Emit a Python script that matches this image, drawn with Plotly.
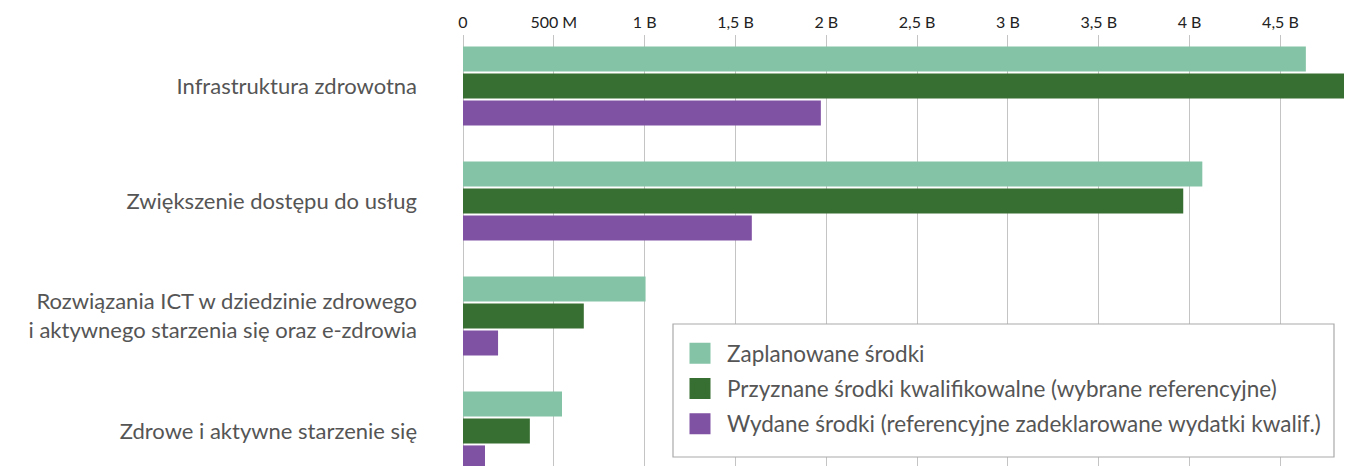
import plotly.graph_objects as go

categories = [
    "Infrastruktura zdrowotna",
    "Zwiększenie dostępu do usług",
    "Rozwiązania ICT w dziedzinie zdrowego<br>i aktywnego starzenia się oraz e-zdrowia",
    "Zdrowe i aktywne starzenie się",
]
series_names = [
    "Zaplanowane środki",
    "Przyznane środki kwalifikowalne (wybrane referencyjne)",
    "Wydane środki (referencyjne zadeklarowane wydatki kwalif.)",
]
planned = [4.64e9, 4.07e9, 1.005e9, 0.545e9]
granted = [4.85e9, 3.965e9, 0.665e9, 0.368e9]
spent = [1.97e9, 1.59e9, 0.193e9, 0.121e9]
colors = ["#84C3A5", "#376E31", "#8052A3"]
tick_vals = [0, 0.5e9, 1e9, 1.5e9, 2e9, 2.5e9, 3e9, 3.5e9, 4e9, 4.5e9]
tick_text = ["0", "500 M", "1 B", "1,5 B", "2 B", "2,5 B", "3 B", "3,5 B", "4 B", "4,5 B"]

FONT = "Lato"

fig = go.Figure()
for i, (name, vals, col) in enumerate(zip(series_names, [planned, granted, spent], colors)):
    fig.add_trace(go.Bar(
        y=categories, x=vals, name=name, orientation="h",
        marker=dict(color=col, line=dict(width=0)),
        legendgroup=f"g{i}", showlegend=False,
        hoverinfo="x+name",
    ))
# legend entries (larger square swatches, same groups as the bars)
for i, (name, col) in enumerate(zip(series_names, colors)):
    fig.add_trace(go.Scatter(
        x=[None], y=[None], name=name, mode="markers",
        marker=dict(symbol="square", size=16, color=col,
                    line=dict(color=col, width=5)),
        legendgroup=f"g{i}", showlegend=True, hoverinfo="skip",
    ))

# legend frame, in plot-area fractions
W, H = 881.0, 431.0
fig.add_shape(
    type="rect", xref="paper", yref="paper", layer="above",
    x0=(673 - 463) / W, x1=(1334 - 463) / W,
    y0=(466 - 457) / H, y1=(466 - 324) / H,
    line=dict(color="#aaaaaa", width=1.2), fillcolor="white",
)

fig.update_layout(
    width=1349, height=458,
    margin=dict(l=455, r=13, t=27, b=0),
    paper_bgcolor="white", plot_bgcolor="white",
    barmode="group", bargap=0.296, bargroupgap=0.074,
    font=dict(family=FONT, color="#555555"),
    showlegend=True,
    legend=dict(
        x=(673 - 463) / W, y=(466 - 332) / H, xanchor="left", yanchor="top",
        borderwidth=0, bgcolor="rgba(0,0,0,0)",
        font=dict(size=22.5, color="#555555", family=FONT),
        traceorder="grouped", tracegroupgap=3, itemwidth=44,
    ),
    xaxis=dict(
        side="top", range=[0, 4.85e9],
        tickvals=tick_vals, ticktext=tick_text,
        tickfont=dict(size=16, color="#222222", family=FONT),
        showgrid=True, gridcolor="#c4c4c4", gridwidth=1,
        zeroline=True, zerolinecolor="#c4c4c4", zerolinewidth=1,
        showline=False, ticks="", automargin=False,
        ticklabelstandoff=3,
        fixedrange=True,
    ),
    yaxis=dict(
        type="category", categoryorder="array", categoryarray=categories,
        range=[3.305, -0.443],
        tickfont=dict(size=22, color="#555555", family=FONT),
        ticks="", showgrid=False, showline=False, zeroline=False,
        ticklabelstandoff=45, automargin=False,
        fixedrange=True,
    ),
)

fig.write_html("out.html")
